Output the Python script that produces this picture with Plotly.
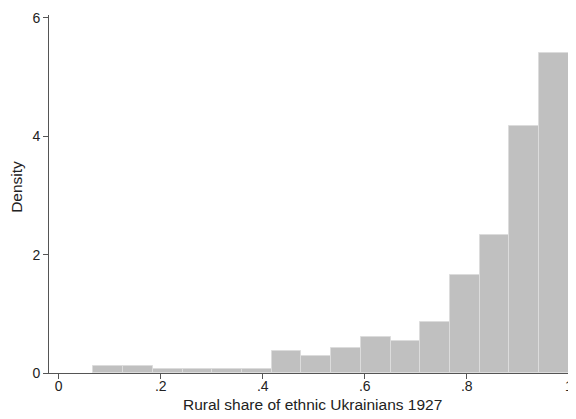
import plotly.graph_objects as go

# Histogram data (density)
bin_start = 0.068
bin_width = 0.05825
densities = [0.12, 0.12, 0.06, 0.06, 0.06, 0.06, 0.37, 0.29, 0.42, 0.61,
             0.54, 0.86, 1.65, 2.34, 4.18, 5.41]

x_tickvals = [0, 0.2, 0.4, 0.6, 0.8, 1.0]
x_ticktext = ["0", ".2", ".4", ".6", ".8", "1"]
y_tickvals = [0, 2, 4, 6]
y_ticktext = ["0", "2", "4", "6"]
x_title = "Rural share of ethnic Ukrainians 1927"
y_title = "Density"

centers = [bin_start + bin_width * (i + 0.5) for i in range(len(densities))]

fig = go.Figure(go.Bar(
    x=centers, y=densities, width=[bin_width] * len(densities),
    marker=dict(color="#c0c0c0", line=dict(color="#dcdcdc", width=1)),
    hoverinfo="skip",
))

title_font = dict(family="Liberation Sans, Arial, sans-serif", size=15.5, color="#222222")
tick_font = dict(family="Liberation Sans, Arial, sans-serif", size=14, color="#222222")

# page body has an 8px default margin, so the figure is sized to fit the window
fig.update_layout(
    width=568, height=411,
    margin=dict(l=41, r=0, t=7, b=46),
    paper_bgcolor="white", plot_bgcolor="white",
    font=tick_font, showlegend=False, bargap=0,
    xaxis=dict(
        range=[-0.019, 1.014], tickvals=x_tickvals, ticktext=x_ticktext,
        showgrid=False, zeroline=False, showline=True, linecolor="#555555", linewidth=1,
        ticks="outside", ticklen=5, tickcolor="#555555", automargin=False,
        tickfont=tick_font, ticklabelstandoff=-5,
    ),
    yaxis=dict(
        range=[0, 6.05], tickvals=y_tickvals, ticktext=y_ticktext,
        showgrid=False, zeroline=False, showline=True, linecolor="#555555", linewidth=1,
        ticks="outside", ticklen=5, tickcolor="#555555", automargin=False,
        tickfont=tick_font,
    ),
    annotations=[
        dict(text=x_title, xref="paper", yref="paper", x=0.5, y=0,
             xanchor="center", yanchor="top", yshift=-21, showarrow=False, font=title_font),
        dict(text=y_title, xref="paper", yref="paper", x=0, y=0.52, textangle=-90,
             xanchor="center", yanchor="middle", xshift=-32, showarrow=False, font=title_font),
    ],
)

fig.write_html("out.html")
